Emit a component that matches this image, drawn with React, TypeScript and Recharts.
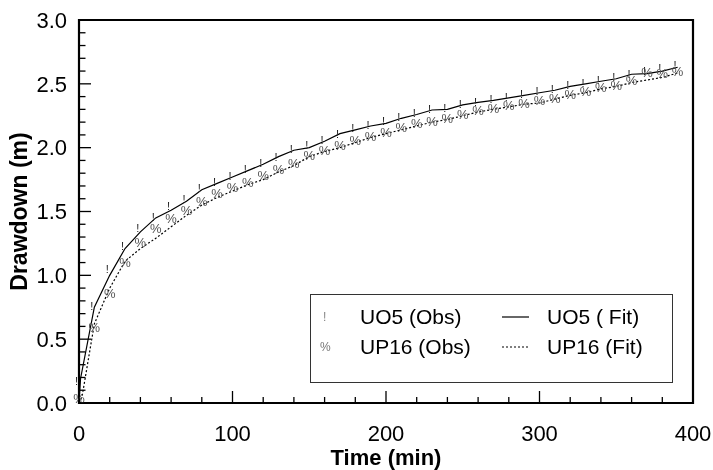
import { ComposedChart, Line, Scatter, XAxis, YAxis, ReferenceArea, Legend, Label } from 'recharts'

const obsTimes = [0, 10, 20, 30, 40, 50, 60, 70, 80, 90, 100, 110, 120, 130, 140, 150, 160, 170, 180, 190, 200, 210, 220, 230, 240, 250, 260, 270, 280, 290, 300, 310, 320, 330, 340, 350, 360, 370, 380, 390]
const uo5Obs = [0.17, 0.76, 1.05, 1.23, 1.37, 1.46, 1.54, 1.6, 1.68, 1.73, 1.78, 1.83, 1.88, 1.93, 1.99, 2.02, 2.06, 2.11, 2.15, 2.18, 2.21, 2.24, 2.27, 2.3, 2.31, 2.34, 2.36, 2.38, 2.4, 2.42, 2.44, 2.46, 2.49, 2.51, 2.53, 2.55, 2.58, 2.6, 2.62, 2.65]
const up16Obs = [0.04, 0.59, 0.86, 1.1, 1.26, 1.37, 1.45, 1.51, 1.58, 1.64, 1.69, 1.73, 1.78, 1.83, 1.88, 1.94, 1.98, 2.02, 2.06, 2.09, 2.12, 2.16, 2.19, 2.21, 2.23, 2.26, 2.29, 2.31, 2.33, 2.35, 2.37, 2.39, 2.42, 2.44, 2.47, 2.49, 2.53, 2.59, 2.58, 2.6]

const uo5FitTimes = [0, 1, 10, 20, 30, 40, 50, 60, 70, 80, 90, 100, 110, 120, 130, 140, 150, 160, 170, 180, 190, 200, 210, 220, 230, 240, 250, 260, 270, 280, 290, 300, 310, 320, 330, 340, 350, 360, 370, 380, 390]
const uo5Fit = [0, 0.19, 0.75, 1.0, 1.21, 1.34, 1.45, 1.51, 1.58, 1.67, 1.72, 1.77, 1.82, 1.87, 1.93, 1.98, 2.0, 2.05, 2.11, 2.14, 2.17, 2.19, 2.23, 2.26, 2.295, 2.3, 2.335, 2.355, 2.37, 2.39, 2.41, 2.43, 2.45, 2.48, 2.5, 2.52, 2.54, 2.575, 2.58, 2.6, 2.63]
const up16FitTimes = [0, 2, 10, 20, 30, 40, 50, 60, 70, 80, 90, 100, 110, 120, 130, 140, 150, 160, 170, 180, 190, 200, 210, 220, 230, 240, 250, 260, 270, 280, 290, 300, 310, 320, 330, 340, 350, 360, 370, 380, 390]
const up16Fit = [0, 0.05, 0.62, 0.9, 1.11, 1.21, 1.29, 1.38, 1.47, 1.55, 1.61, 1.66, 1.71, 1.75, 1.81, 1.86, 1.93, 1.97, 2.0, 2.04, 2.08, 2.11, 2.14, 2.17, 2.2, 2.22, 2.25, 2.28, 2.3, 2.32, 2.34, 2.35, 2.38, 2.41, 2.43, 2.46, 2.48, 2.51, 2.53, 2.55, 2.585]

const xTicks = [0, 20, 40, 60, 80, 100, 120, 140, 160, 180, 200, 220, 240, 260, 280, 300, 320, 340, 360, 380, 400]
const yTicks = [0, 0.1, 0.2, 0.3, 0.4, 0.5, 0.6, 0.7, 0.8, 0.9, 1.0, 1.1, 1.2, 1.3, 1.4, 1.5, 1.6, 1.7, 1.8, 1.9, 2.0, 2.1, 2.2, 2.3, 2.4, 2.5, 2.6, 2.7, 2.8, 2.9, 3.0]
const seriesNames = ['UO5 (Obs)', 'UP16 (Obs)', 'UO5 ( Fit)', 'UP16 (Fit)']

const toPoints = (ts: number[], vs: number[]) => ts.map((t, i) => ({ t, v: vs[i] }))

const FONT = "'Liberation Sans', Arial, Helvetica, sans-serif"
const X_GAP = 22
const Y_GAP = 12

function XTick(props: any) {
  const { x, y, payload } = props
  const v = payload.value
  const major = v % 100 === 0
  const axisY = y - X_GAP
  return (
    <g>
      <line x1={x} x2={x} y1={axisY} y2={axisY - (major ? 12 : 6)} stroke="#000" strokeWidth={1.3} />
      {major && (
        <text x={x} y={y} dy="0.71em" textAnchor="middle" fontSize={22} fill="#000">
          {v}
        </text>
      )}
    </g>
  )
}

function YTick(props: any) {
  const { x, y, payload } = props
  const v = payload.value
  const major = Math.abs(v * 2 - Math.round(v * 2)) < 1e-6
  const axisX = x + Y_GAP
  return (
    <g>
      <line x1={axisX} x2={axisX + (major ? 12 : 6.5)} y1={y} y2={y} stroke="#000" strokeWidth={1.3} />
      {major && (
        <text x={x} y={y} dy="0.355em" textAnchor="end" fontSize={22} fill="#000">
          {v.toFixed(1)}
        </text>
      )}
    </g>
  )
}

// the observation symbols are font glyphs, as in the original plot
const bangMark = (p: any) => (
  <text x={p.cx - 2.5} y={p.cy} dy="0.36em" textAnchor="middle" fontSize={11} fill="#222">!</text>
)
const pctMark = (p: any) => (
  <text x={p.cx} y={p.cy} dy="0.36em" textAnchor="middle" fontSize={13} fill="#555">%</text>
)

function LegendBox() {
  const row = (top: number): any => ({ position: 'absolute', top, height: 24, lineHeight: '24px' })
  return (
    <div style={{ position: 'relative', width: 363, height: 89, boxSizing: 'border-box', border: '1px solid #333', background: '#fff', fontSize: 21, fontFamily: FONT, color: '#000' }}>
      <div style={{ ...row(10), left: 12, fontSize: 12, color: '#888' }}>!</div>
      <div style={{ ...row(10), left: 49 }}>{seriesNames[0]}</div>
      <div style={{ ...row(40), left: 9, fontSize: 12, color: '#777' }}>%</div>
      <div style={{ ...row(40), left: 49 }}>{seriesNames[1]}</div>
      <svg style={{ position: 'absolute', left: 191, top: 10 }} width={28} height={56}>
        <line x1={0} x2={27} y1={12} y2={12} stroke="#000" strokeWidth={1.2} />
        <line x1={0} x2={27} y1={42} y2={42} stroke="#000" strokeWidth={1.2} strokeDasharray="2 2" />
      </svg>
      <div style={{ ...row(10), left: 236 }}>{seriesNames[2]}</div>
      <div style={{ ...row(40), left: 236 }}>{seriesNames[3]}</div>
    </div>
  )
}

export default function App() {
  return (
    <>
      <style>{'body{margin:0}'}</style>
      <div style={{ fontFamily: FONT, willChange: 'transform' }}>
        <ComposedChart width={713} height={470} margin={{ top: 20, right: 20, left: 0, bottom: 0 }}>
          <XAxis
            dataKey="t"
            type="number"
            domain={[0, 400]}
            ticks={xTicks}
            interval={0}
            height={67}
            axisLine={false}
            tickLine={false}
            tickSize={0}
            tickMargin={X_GAP}
            tick={<XTick />}
          >
            <Label value="Time (min)" position="insideBottom" offset={5} style={{ fontWeight: 'bold', fontSize: 22, fill: '#000' }} />
          </XAxis>
          <YAxis
            type="number"
            domain={[0, 3]}
            ticks={yTicks}
            interval={0}
            width={79}
            axisLine={false}
            tickLine={false}
            tickSize={0}
            tickMargin={Y_GAP}
            tick={<YTick />}
          >
            <Label value="Drawdown (m)" angle={-90} position="insideLeft" offset={19} style={{ textAnchor: 'middle', fontWeight: 'bold', fontSize: 23, fill: '#000' }} />
          </YAxis>
          <ReferenceArea x1={0} x2={400} y1={0} y2={3} fill="none" stroke="#000" strokeWidth={2.2} />
          <Line data={toPoints(uo5FitTimes, uo5Fit)} dataKey="v" name={seriesNames[2]} stroke="#000" strokeWidth={1.2} dot={false} isAnimationActive={false} />
          <Line data={toPoints(up16FitTimes, up16Fit)} dataKey="v" name={seriesNames[3]} stroke="#000" strokeWidth={1.2} strokeDasharray="2 2" dot={false} isAnimationActive={false} />
          <Scatter data={toPoints(obsTimes, uo5Obs)} dataKey="v" name={seriesNames[0]} shape={bangMark} isAnimationActive={false} />
          <Scatter data={toPoints(obsTimes, up16Obs)} dataKey="v" name={seriesNames[1]} shape={pctMark} isAnimationActive={false} />
          <Legend
            layout="vertical"
            align="center"
            verticalAlign="middle"
            wrapperStyle={{ left: 310, top: 294, width: 363, height: 89 }}
            content={() => <LegendBox />}
          />
        </ComposedChart>
      </div>
    </>
  )
}
